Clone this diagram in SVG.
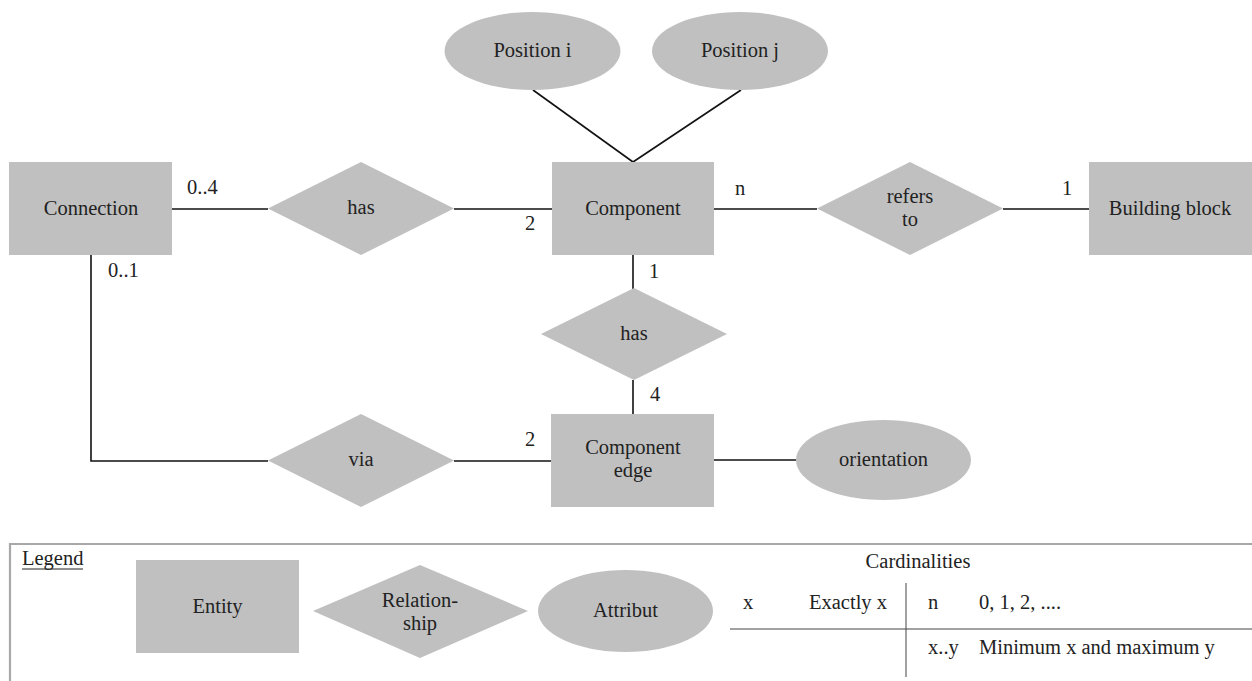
<svg xmlns="http://www.w3.org/2000/svg" width="1252" height="681" viewBox="0 0 1252 681" font-family="'Liberation Serif', 'DejaVu Serif', 'Times New Roman', serif">
<style>
text{font-family:'Liberation Serif','DejaVu Serif','Times New Roman',serif;font-size:20.5px;fill:#222}
.s{fill:#c0c0c0;stroke:none}
.t{text-anchor:middle}
.c{stroke:#111;stroke-width:1.6;fill:none}
.g{stroke:#444;stroke-width:1;fill:none}
</style>
<rect width="1252" height="681" fill="#fff"/>
<g id="connectors">
<line class="c" x1="533" y1="90" x2="633" y2="162"/>
<line class="c" x1="741" y1="90" x2="633" y2="162"/>
<line class="c" x1="172" y1="209" x2="268" y2="209"/>
<line class="c" x1="454" y1="209" x2="552" y2="209"/>
<line class="c" x1="714" y1="209" x2="817" y2="209"/>
<line class="c" x1="1003" y1="209" x2="1090" y2="209"/>
<line class="c" x1="633" y1="255" x2="633" y2="289"/>
<line class="c" x1="633" y1="380" x2="633" y2="414"/>
<polyline class="c" points="91,255 91,461 268,461"/>
<line class="c" x1="454" y1="461" x2="551" y2="461"/>
<line class="c" x1="714" y1="460" x2="796" y2="460"/>
<text x="187" y="194">0..4</text>
<text x="525" y="230">2</text>
<text x="735" y="195">n</text>
<text x="1062" y="195">1</text>
<text x="108" y="277">0..1</text>
<text x="649" y="278">1</text>
<text x="650" y="401">4</text>
<text x="525" y="446">2</text>
</g>
<g id="position-i"><ellipse class="s" cx="532.5" cy="51" rx="88" ry="39"/><text class="t" x="532.5" y="57">Position i</text></g>
<g id="position-j"><ellipse class="s" cx="740" cy="51" rx="88" ry="39"/><text class="t" x="740" y="57">Position j</text></g>
<g id="connection"><rect class="s" x="9" y="162" width="163" height="93"/><text class="t" x="91" y="215">Connection</text></g>
<g id="has1"><polygon class="s" points="268,208.5 361,162 454,208.5 361,255"/><text class="t" x="361" y="214">has</text></g>
<g id="component"><rect class="s" x="552" y="162" width="162" height="93"/><text class="t" x="633" y="215">Component</text></g>
<g id="refers-to"><polygon class="s" points="817,208.5 910,162 1003,208.5 910,255"/><text class="t" x="910" y="203">refers</text><text class="t" x="910" y="226">to</text></g>
<g id="building-block"><rect class="s" x="1089" y="162" width="163" height="93"/><text class="t" x="1170" y="215">Building block</text></g>
<g id="has2"><polygon class="s" points="541,334 634,288 727,334 634,380"/><text class="t" x="634" y="340">has</text></g>
<g id="via"><polygon class="s" points="268,460.5 361,414 454,460.5 361,507"/><text class="t" x="361" y="466">via</text></g>
<g id="component-edge"><rect class="s" x="551" y="414" width="163" height="93"/><text class="t" x="633" y="454">Component</text><text class="t" x="633" y="477">edge</text></g>
<g id="orientation"><ellipse class="s" cx="883.5" cy="460" rx="87.5" ry="40"/><text class="t" x="883.5" y="466">orientation</text></g>
<g id="legend">
<polyline points="10,681 10,544 1252,544" fill="none" stroke="#a8a8a8" stroke-width="2.2"/>
<text x="22" y="565">Legend</text>
<line x1="22" y1="569" x2="83" y2="569" stroke="#222" stroke-width="1"/>
<rect class="s" x="136" y="560" width="163" height="93"/><text class="t" x="217.5" y="613">Entity</text>
<polygon class="s" points="313,611 420,565 528,611 420,658"/><text class="t" x="420" y="607">Relation-</text><text class="t" x="420" y="630">ship</text>
<ellipse class="s" cx="625.5" cy="611" rx="87.5" ry="41"/><text class="t" x="625.5" y="617">Attribut</text>
<text class="t" x="918" y="568">Cardinalities</text>
<line class="g" x1="906" y1="583" x2="906" y2="677"/>
<line class="g" x1="730" y1="629" x2="1252" y2="629"/>
<text x="743" y="609">x</text>
<text x="809" y="609">Exactly x</text>
<text x="928" y="609">n</text>
<text x="979" y="609">0, 1, 2, ....</text>
<text x="928" y="654">x..y</text>
<text x="979" y="654">Minimum x and maximum y</text>
</g>
</svg>
